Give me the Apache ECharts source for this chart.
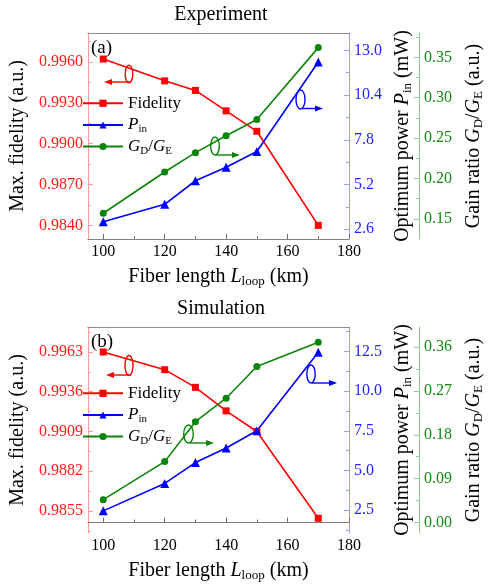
<!DOCTYPE html>
<html><head><meta charset="utf-8">
<script src="https://cdn.jsdelivr.net/npm/echarts@6/dist/echarts.min.js"></script>
<style>html,body{margin:0;padding:0;background:#fff}#c{width:493px;height:585px}</style>
</head><body><div id="c"></div>
<script>
// ---- data ----
const fiberLength = [100, 120, 130, 140, 150, 170];
const expFidelity = [0.9962, 0.9946, 0.9939, 0.9924, 0.9909, 0.9840];
const expPin      = [3.04, 4.05, 5.42, 6.20, 7.12, 12.32];
const expGain     = [0.157, 0.208, 0.232, 0.253, 0.273, 0.362];
const simFidelity = [0.9963, 0.9951, 0.9939, 0.9923, 0.9909, 0.9850];
const simPin      = [2.46, 4.19, 5.50, 6.42, 7.51, 12.45];
const simGain     = [0.047, 0.125, 0.207, 0.255, 0.320, 0.370];

const xTickValues  = [100, 120, 140, 160, 180];
const xMinorValues = [110, 130, 150, 170];
const expFidTicks  = [0.9840, 0.9870, 0.9900, 0.9930, 0.9960];
const expPinTicks  = [2.6, 5.2, 7.8, 10.4, 13.0];
const expGainTicks = [0.15, 0.20, 0.25, 0.30, 0.35];
const simFidTicks  = [0.9855, 0.9882, 0.9909, 0.9936, 0.9963];
const simPinTicks  = [2.5, 5.0, 7.5, 10.0, 12.5];
const simGainTicks = [0.00, 0.09, 0.18, 0.27, 0.36];

const panelTitles = ['Experiment', 'Simulation'];
const panelTags = ['(a)', '(b)'];

// ---- style ----
const FONT = 'Liberation Serif';
const RED = '#ff0000', BLUE = '#0000ff', GREEN = '#0a850a';
const RED_L = '#ff9a9a', BLUE_L = '#9d9dff', GREEN_L = '#8cc88c';
const RED_T = '#ff1a1a', BLUE_T = '#2424ff', GREEN_T = '#138a13';

function rich(size) {
  return {
    t: {fontFamily: FONT, fontSize: size, color: '#000', lineHeight: size + 3, verticalAlign: 'middle'},
    i: {fontFamily: FONT, fontSize: size, color: '#000', fontStyle: 'italic', lineHeight: size + 3, verticalAlign: 'middle'},
    s: {fontFamily: FONT, fontSize: Math.round(size * 0.66), color: '#000', lineHeight: Math.round(size * 0.7), verticalAlign: 'bottom'}
  };
}

const panels = [
  {fid: expFidelity, pin: expPin, gain: expGain, fidT: expFidTicks, pinT: expPinTicks, gainT: expGainTicks,
   fidR: [0.98300, 0.99811], pinR: [2.036, 14.005], gainR: [0.1251, 0.3801], top: 33},
  {fid: simFidelity, pin: simPin, gain: simGain, fidT: simFidTicks, pinT: simPinTicks, gainT: simGainTicks,
   fidR: [0.98400, 0.99800], pinR: [1.066, 14.04], gainR: [-0.0214, 0.4011], top: 327}
];

function minorOf(ticks, range) {
  const step = ticks[1] - ticks[0];
  const out = [];
  for (let k = -1; k < ticks.length; k++) {
    const v = ticks[0] + (k + 0.5) * step;
    if (v > range[0] && v < range[1]) out.push(v);
  }
  return out;
}

const grid = [], xAxis = [], yAxis = [], series = [], legend = [];
const legendNames = {Fidelity: '{t|Fidelity}', Pin: '{i|P}{s|in}', Gain: '{i|G}{s|D}{t|/}{i|G}{s|E}'};

panels.forEach((p, pi) => {
  grid.push({left: 82, top: p.top, width: 278, height: 206, containLabel: false});
  const xBase = {gridIndex: pi, type: 'value', min: 95, max: 180, splitLine: {show: false}};
  xAxis.push(Object.assign({}, xBase, {
    position: 'bottom',
    axisLine: {lineStyle: {color: '#808080', width: 1}},
    axisTick: {inside: true, length: 5, customValues: xTickValues, lineStyle: {color: '#707070'}},
    axisLabel: {customValues: xTickValues, margin: 5, fontFamily: FONT, fontSize: 16, color: '#000'},
    name: '{t|Fiber length }{i|L}{s|loop}{t| (km)}', nameLocation: 'middle', nameGap: 26,
    nameTextStyle: {fontFamily: FONT, fontSize: 20, color: '#000', rich: rich(20)}
  }));
  xAxis.push(Object.assign({}, xBase, {
    position: 'bottom', axisLine: {show: false},
    axisTick: {inside: true, length: 3, customValues: xMinorValues, lineStyle: {color: '#707070'}},
    axisLabel: {show: false}
  }));
  xAxis.push(Object.assign({}, xBase, {
    position: 'top', axisLine: {lineStyle: {color: '#8c8c8c', width: 1}},
    axisTick: {show: false}, axisLabel: {show: false}
  }));

  const yDefs = [
    {range: p.fidR, ticks: p.fidT, dec: 4, pos: 'left', off: 0, line: RED_L, txt: RED_T,
     name: '{t|Max. fidelity (a.u.)}', gap: 53},
    {range: p.pinR, ticks: p.pinT, dec: 1, pos: 'right', off: 0, line: BLUE_L, txt: BLUE_T,
     name: '{t|Optimum power }{i|P}{s|in}{t| (mW)}', gap: 37},
    {range: p.gainR, ticks: p.gainT, dec: 2, pos: 'right', off: 70, line: GREEN_L, txt: GREEN_T,
     name: '{t|Gain ratio }{i|G}{s|D}{t|/}{i|G}{s|E}{t| (a.u.)}', gap: 43}
  ];
  yDefs.forEach(d => {
    yAxis.push({
      gridIndex: pi, type: 'value', min: d.range[0], max: d.range[1], position: d.pos, offset: d.off,
      splitLine: {show: false},
      axisLine: {show: true, onZero: false, lineStyle: {color: d.line, width: 1}},
      axisTick: {show: true, inside: true, length: 5, customValues: d.ticks, lineStyle: {color: d.line}},
      axisLabel: {customValues: d.ticks, margin: 5, fontFamily: FONT, fontSize: 16, color: d.txt,
                  formatter: v => Number(v).toFixed(d.dec)},
      name: d.name, nameLocation: 'middle', nameGap: d.gap, nameRotate: 90,
      nameTextStyle: {fontFamily: FONT, fontSize: 20, color: '#000', rich: rich(20)}
    });
  });
  yDefs.forEach(d => {
    yAxis.push({
      gridIndex: pi, type: 'value', min: d.range[0], max: d.range[1], position: d.pos, offset: d.off,
      splitLine: {show: false}, axisLine: {show: false, onZero: false},
      axisTick: {show: true, inside: true, length: 3, customValues: minorOf(d.ticks, d.range), lineStyle: {color: d.line}},
      axisLabel: {show: false}
    });
  });

  const mk = (name, vals, yi, color, symbol, size) => ({
    name, type: 'line', xAxisIndex: pi * 3, yAxisIndex: pi * 6 + yi,
    data: fiberLength.map((x, k) => [x, vals[k]]),
    symbol, symbolSize: size, showAllSymbol: true,
    lineStyle: {color, width: 1.6}, itemStyle: {color}, z: 3, animation: false
  });
  series.push(mk('Fidelity', p.fid, 0, RED, 'rect', 7));
  series.push(mk('Pin', p.pin, 1, BLUE, 'triangle', 9));
  series.push(mk('Gain', p.gain, 2, GREEN, 'circle', 7));

  const centers = pi === 0 ? [103.3, 125, 146.5] : [393.3, 415, 436.5];
  ['Fidelity', 'Pin', 'Gain'].forEach((n, k) => {
    legend.push({
      data: [n], left: 82, top: centers[k] - 10, padding: 0, itemWidth: 40, itemHeight: 9, itemGap: 0,
      selectedMode: false, formatter: name => legendNames[name],
      textStyle: {fontFamily: FONT, fontSize: 17, color: '#000', lineHeight: 20, rich: rich(17)}
    });
  });
});

const graphic = [];
function ellipse(cx, cy, rx, ry, color) {
  graphic.push({type: 'ellipse', shape: {cx, cy, rx, ry}, z: 10,
    style: {fill: 'rgba(0,0,0,0)', stroke: color, lineWidth: 1.4}});
}
function arrow(x1, y, x2, color) {
  const dir = x2 > x1 ? 1 : -1;
  graphic.push({type: 'line', shape: {x1, y1: y, x2: x2 - dir * 5, y2: y}, z: 10,
    style: {stroke: color, lineWidth: 1.4}});
  graphic.push({type: 'polygon', z: 10,
    shape: {points: [[x2, y], [x2 - dir * 8, y - 3], [x2 - dir * 8, y + 3]]}, style: {fill: color}});
}
panelTitles.forEach((t, pi) => {
  const top = panels[pi].top;
  graphic.push({type: 'text', x: 221, y: top - 18, z: 10,
    style: {text: t, font: '20px ' + FONT, fill: '#000', align: 'center', verticalAlign: 'middle'}});
  graphic.push({type: 'text', x: 91, y: top + 15, z: 10,
    style: {text: panelTags[pi], font: '19px ' + FONT, fill: '#000', align: 'left', verticalAlign: 'middle'}});
});
// annotation loops
ellipse(129, 74, 3.8, 8.8, RED);   arrow(131, 82, 104, RED);
ellipse(215, 146, 4.3, 9.0, GREEN); arrow(216, 155, 240, GREEN);
ellipse(300.5, 99.5, 4.5, 9.5, BLUE); arrow(301, 108.5, 323, BLUE);
ellipse(129, 365.5, 4.0, 10, RED);  arrow(131, 375, 106, RED);
ellipse(188.5, 434, 4.8, 9.0, GREEN); arrow(190, 443, 214, GREEN);
ellipse(311, 374, 4.2, 9.0, BLUE);  arrow(312, 383, 337, BLUE);

const chart = echarts.init(document.getElementById('c'), null, {renderer: 'canvas'});
chart.setOption({
  animation: false, backgroundColor: '#fff',
  grid, xAxis, yAxis, series, legend, graphic
});
</script></body></html>
